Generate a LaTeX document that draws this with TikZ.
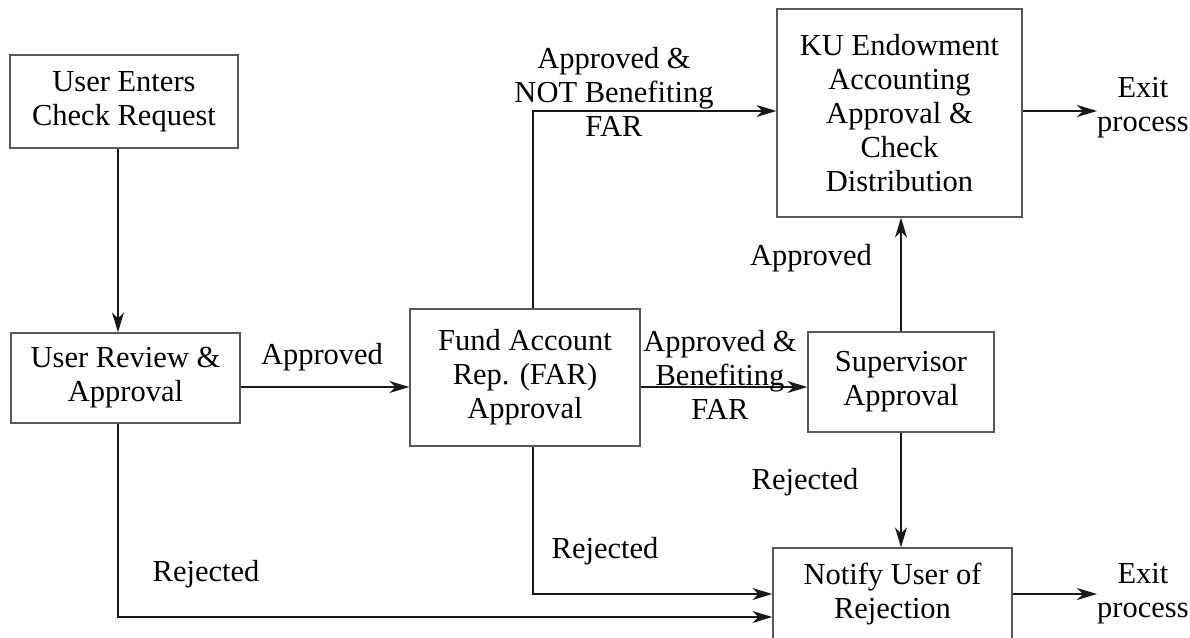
\documentclass[tikz,border=0pt]{standalone}
\usepackage{fontspec}
\setmainfont{Liberation Serif}
\usetikzlibrary{arrows.meta}
\begin{document}
\begin{tikzpicture}[x=1pt,y=-1pt,
  font=\fontsize{30.5}{34}\selectfont,
  box/.style={draw=black!65, line width=1.3pt, rectangle, align=center, inner sep=0pt},
  lbl/.style={align=center, inner sep=0pt},
  conn/.style={draw=black!90, line width=1.5pt},
  arr/.style={conn, -{Stealth[length=20pt,width=12pt,inset=6pt]}}]
\useasboundingbox (0,0) rectangle (1190,637);
% boxes
\node[box, minimum width=228pt, minimum height=93pt] (A) at (124,101.5) {User Enters\\Check Request};
\node[box, minimum width=229pt, minimum height=90pt] (B) at (125.5,378) {User Review \&\\Approval};
\node[box, minimum width=230pt, minimum height=137pt] (C) at (525,377.5) {Fund Account\\Rep. (FAR)\\Approval};
\node[box, minimum width=245pt, minimum height=208pt] (D) at (899.5,113) {KU Endowment\\Accounting\\Approval \&\\Check\\Distribution};
\node[box, minimum width=186pt, minimum height=100pt] (E) at (901,382) {Supervisor\\Approval};
\node[box, minimum width=239pt, minimum height=92pt] (F) at (892.5,594) {Notify User of\\Rejection};
\node[lbl, anchor=west] (X1) at (1097,108) {Exit\\process};
\node[lbl, anchor=west] (X2) at (1097,594) {Exit\\process};
% helper coordinates
\coordinate (xl) at (118,0);
\coordinate (xc) at (533,0);
\coordinate (ymid) at (0,387);
\coordinate (ytop) at (0,111);
\coordinate (yrc) at (0,594);
\coordinate (yrb) at (0,617);
% connectors
\draw[arr] (A.south -| xl) -- (B.north -| xl);
\draw[arr] (B.east |- ymid) -- (C.west |- ymid);
\draw[arr] (C.north -| xc) |- (D.west |- ytop);
\draw[arr] (C.east |- ymid) -- (E.west |- ymid);
\draw[arr] (E.north) -- (D.south -| E.north);
\draw[arr] (E.south) -- (F.north -| E.south);
\draw[arr] (C.south -| xc) |- (F.west |- yrc);
\draw[arr] (B.south -| xl) |- (F.west |- yrb);
\draw[arr] (D.east |- ytop) -- (X1.west |- ytop);
\draw[arr] (F.east |- yrc) -- (X2.west |- yrc);
% labels
\node[lbl] (l1) at (322,357) {Approved};
\node[lbl] (l2) at (614,92) {Approved \&\\NOT Benefiting\\FAR};
\node[lbl] (l3) at (720,375) {Approved \&\\Benefiting\\FAR};
\node[lbl] (l4) at (811,258) {Approved};
\node[lbl] (l5) at (805,482) {Rejected};
\node[lbl] (l6) at (605,551) {Rejected};
\node[lbl] (l7) at (206,574) {Rejected};
\end{tikzpicture}
\end{document}
